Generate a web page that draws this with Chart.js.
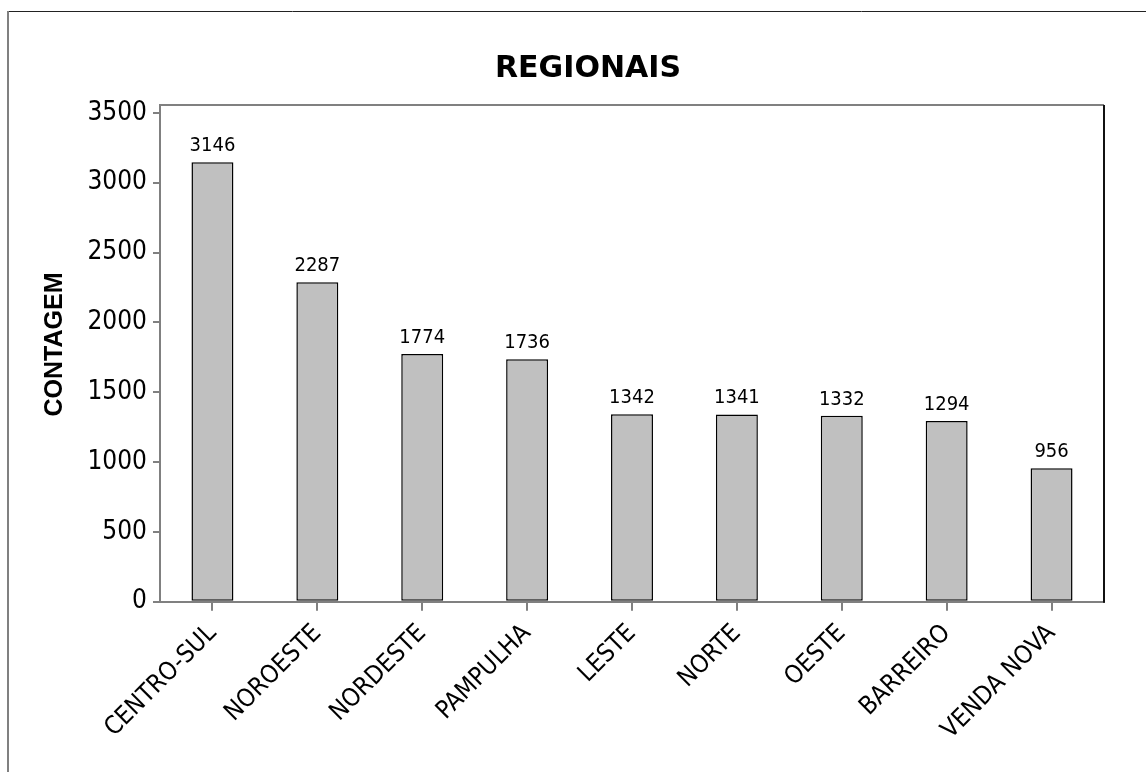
<!DOCTYPE html>
<html>
<head>
<meta charset="utf-8">
<script src="https://cdn.jsdelivr.net/npm/chart.js@4/dist/chart.umd.min.js"></script>
<style>
  html, body { margin: 0; padding: 0; background: #fff; }
  #wrap { width: 1146px; height: 772px; position: relative; }
</style>
</head>
<body>
<div id="wrap"><canvas id="c" width="1146" height="772"></canvas></div>
<script>
const categories = ['CENTRO-SUL', 'NOROESTE', 'NORDESTE', 'PAMPULHA', 'LESTE', 'NORTE', 'OESTE', 'BARREIRO', 'VENDA NOVA'];
const counts = [3146, 2287, 1774, 1736, 1342, 1341, 1332, 1294, 956];
const yTicks = [0, 500, 1000, 1500, 2000, 2500, 3000, 3500];
const chartTitle = 'REGIONAIS';
const yTitle = 'CONTAGEM';

const FONT = '"DejaVu Sans Condensed", "DejaVu Sans", sans-serif';

const decor = {
  id: 'decor',
  afterDraw(chart) {
    const ctx = chart.ctx;
    const a = chart.chartArea;
    ctx.save();
    // outer frame
    ctx.lineWidth = 1;
    ctx.strokeStyle = '#222';
    ctx.beginPath(); ctx.moveTo(8, 11.5); ctx.lineTo(1146, 11.5); ctx.stroke();
    ctx.strokeStyle = '#808080';
    ctx.lineWidth = 2;
    ctx.beginPath(); ctx.moveTo(8, 11); ctx.lineTo(8, 772); ctx.stroke();
    // plot frame top and right
    ctx.lineWidth = 2;
    ctx.strokeStyle = '#808080';
    ctx.beginPath(); ctx.moveTo(a.left, a.top); ctx.lineTo(a.right, a.top); ctx.stroke();
    ctx.strokeStyle = '#111';
    ctx.beginPath(); ctx.moveTo(a.right, a.top); ctx.lineTo(a.right, a.bottom + 1); ctx.stroke();
    // title
    ctx.fillStyle = '#000';
    ctx.font = 'bold 30px "DejaVu Sans", sans-serif';
    ctx.textAlign = 'center';
    ctx.textBaseline = 'alphabetic';
    ctx.fillText(chartTitle, 588, 77);
    // y axis title
    ctx.save();
    ctx.translate(55, 344.5);
    ctx.rotate(-Math.PI / 2);
    ctx.font = 'bold 25px "Liberation Sans", Arial, sans-serif';
    ctx.textBaseline = 'middle';
    ctx.fillText(yTitle, 0, 0);
    ctx.restore();
    // value labels
    const meta = chart.getDatasetMeta(0);
    ctx.font = '20px ' + FONT;
    ctx.textAlign = 'center';
    ctx.textBaseline = 'alphabetic';
    meta.data.forEach((bar, i) => {
      ctx.fillText(String(counts[i]), bar.x, bar.y - 11);
    });
    ctx.restore();
  }
};

new Chart(document.getElementById('c'), {
  type: 'bar',
  data: {
    labels: categories,
    datasets: [{
      data: counts,
      backgroundColor: '#C0C0C0',
      borderColor: '#000',
      borderWidth: 1.5,
      borderSkipped: false,
      categoryPercentage: 1,
      barPercentage: 0.4
    }]
  },
  options: {
    responsive: false,
    animation: false,
    layout: { padding: { top: 105, right: 42, left: 0, bottom: 0 } },
    plugins: { legend: { display: false }, tooltip: { enabled: false }, title: { display: false } },
    scales: {
      x: {
        afterFit(s) { s.height = 772 - 601.7; },
        grid: { display: true, offset: false, drawOnChartArea: false, drawTicks: true, tickLength: 9, color: '#808080', lineWidth: 2 },
        border: { display: true, color: '#808080', width: 2 },
        ticks: {
          minRotation: 45, maxRotation: 45, autoSkip: false, padding: 8,
          color: '#000', font: { family: FONT, size: 25 }
        }
      },
      y: {
        min: 0, max: 3556,
        afterFit(s) { s.width = 160; },
        afterBuildTicks(s) { s.ticks = yTicks.map(v => ({ value: v })); },
        grid: { display: true, drawOnChartArea: false, drawTicks: true, tickLength: 7, color: '#808080', lineWidth: 2 },
        border: { display: true, color: '#808080', width: 2 },
        ticks: {
          padding: 6, color: '#000', font: { family: FONT, size: 26 },
          callback: (v) => String(v)
        }
      }
    }
  },
  plugins: [decor]
});
</script>
</body>
</html>
